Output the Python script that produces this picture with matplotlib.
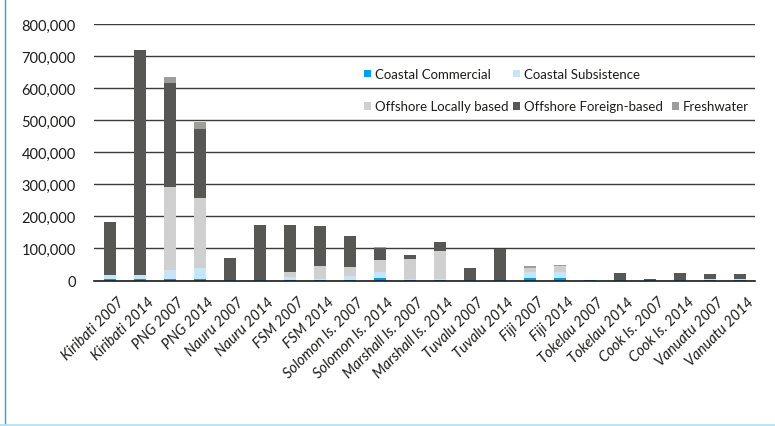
import matplotlib
matplotlib.use("Agg")
import matplotlib.pyplot as plt
import numpy as np
from matplotlib.patches import Patch
from matplotlib.lines import Line2D
from matplotlib.ticker import FuncFormatter
import matplotlib.transforms as mtransforms

categories = ["Kiribati 2007", "Kiribati 2014", "PNG 2007", "PNG 2014", "Nauru 2007",
              "Nauru 2014", "FSM 2007", "FSM 2014", "Solomon Is. 2007", "Solomon Is. 2014",
              "Marshall Is. 2007", "Marshall Is. 2014", "Tuvalu 2007", "Tuvalu 2014",
              "Fiji 2007", "Fiji 2014", "Tokelau 2007", "Tokelau 2014", "Cook Is. 2007",
              "Cook Is. 2014", "Vanuatu 2007", "Vanuatu 2014"]

coastal_commercial = [6000, 5000, 5000, 5000, 300, 300, 2000, 1600, 3000, 6900,
                      1000, 1000, 200, 200, 7000, 7000, 100, 200, 150, 150, 600, 600]
coastal_subsistence = [11500, 12500, 28000, 35000, 400, 400, 10000, 4000, 12000, 18700,
                       2600, 2600, 900, 900, 21000, 20000, 400, 400, 300, 300, 2800, 2800]
offshore_local = [0, 0, 258000, 216500, 0, 0, 14600, 38400, 26000, 39400,
                  62000, 87000, 0, 0, 12500, 17400, 0, 0, 2500, 0, 0, 0]
offshore_foreign = [164000, 701500, 325000, 216000, 68300, 173300, 147500, 125000, 99000, 37000,
                    14400, 29400, 36400, 97000, 0, 0, 500, 22000, 2500, 22000, 15900, 15900]
freshwater = [0, 0, 18000, 23000, 0, 0, 0, 0, 0, 4000,
              0, 0, 0, 0, 3500, 3000, 0, 0, 0, 0, 0, 0]

series_names = ["Coastal Commercial", "Coastal Subsistence", "Offshore Locally based",
                "Offshore Foreign-based", "Freshwater"]
series_values = [coastal_commercial, coastal_subsistence, offshore_local,
                 offshore_foreign, freshwater]
colors = ["#009fe3", "#c6e6f8", "#d0d0d0", "#575756", "#9d9d9c"]

FONT = "Lato"
plt.rcParams['font.family'] = [FONT, 'DejaVu Sans']

fig = plt.figure(figsize=(7.75, 4.27), dpi=100)
ax = fig.add_axes([94 / 775, 1 - 281.5 / 427, (755 - 94) / 775, (281.5 - 25.3) / 427])

x = np.arange(len(categories))
bottom = np.zeros(len(categories))
handles = []
for name, vals, col in zip(series_names, series_values, colors):
    v = np.array(vals, dtype=float)
    ax.bar(x, v, bottom=bottom, width=0.39, color=col, label=name, zorder=3)
    bottom += v
    handles.append(Patch(facecolor=col, edgecolor='none', label=name))

ax.set_ylim(0, 800000)
ax.set_xlim(-0.53, 21.5)
ax.set_yticks(np.arange(0, 800001, 100000))
ax.yaxis.set_major_formatter(FuncFormatter(lambda v, p: f"{int(v):,}"))
ax.grid(axis='y', color='#3c3c3b', linewidth=1.0, zorder=0)
for s in ['top', 'right', 'left']:
    ax.spines[s].set_visible(False)
ax.spines['bottom'].set_color('#1d1d1b')
ax.spines['bottom'].set_linewidth(1.2)
ax.spines['bottom'].set_zorder(4)
ax.tick_params(axis='y', length=0, pad=13, labelsize=10.5, labelcolor='#1d1d1b')
ax.tick_params(axis='x', length=0)
ax.set_xticks(x)
ax.set_xticklabels(categories, rotation=45, ha='right', va='top', rotation_mode='anchor',
                   fontsize=10.5, style='italic', color='#1d1d1b')
offset = mtransforms.ScaledTranslation(7 / 100, -9 / 100, fig.dpi_scale_trans)
for lbl in ax.get_xticklabels():
    lbl.set_transform(lbl.get_transform() + offset)

blank = Patch(facecolor='none', edgecolor='none', label=' ')
columns = [([handles[0], handles[2]], 364),
           ([handles[1], handles[3]], 513),
           ([blank, handles[4]], 672)]
legends = []
for hs, xpos in columns:
    leg = ax.legend(hs, [h.get_label() for h in hs], loc='upper left',
                    bbox_to_anchor=(xpos / 775, 1 - 69 / 427), bbox_transform=fig.transFigure,
                    frameon=False, fontsize=9.5, handlelength=0.5, handleheight=0.5,
                    handletextpad=0.35, labelspacing=1.55,
                    borderpad=0, borderaxespad=0)
    for t in leg.get_texts():
        t.set_color('#1d1d1b')
    legends.append(leg)
for leg in legends[:-1]:
    ax.add_artist(leg)

# figure frame lines
fig.add_artist(Line2D([4.5 / 775, 4.5 / 775], [0, 1], transform=fig.transFigure,
                      color='#1ea5e0', linewidth=1.0))
fig.add_artist(Line2D([0, 1], [1.5 / 427, 1.5 / 427], transform=fig.transFigure,
                      color='#b5e1f7', linewidth=2.0))

fig.savefig("out.png", dpi=100)
